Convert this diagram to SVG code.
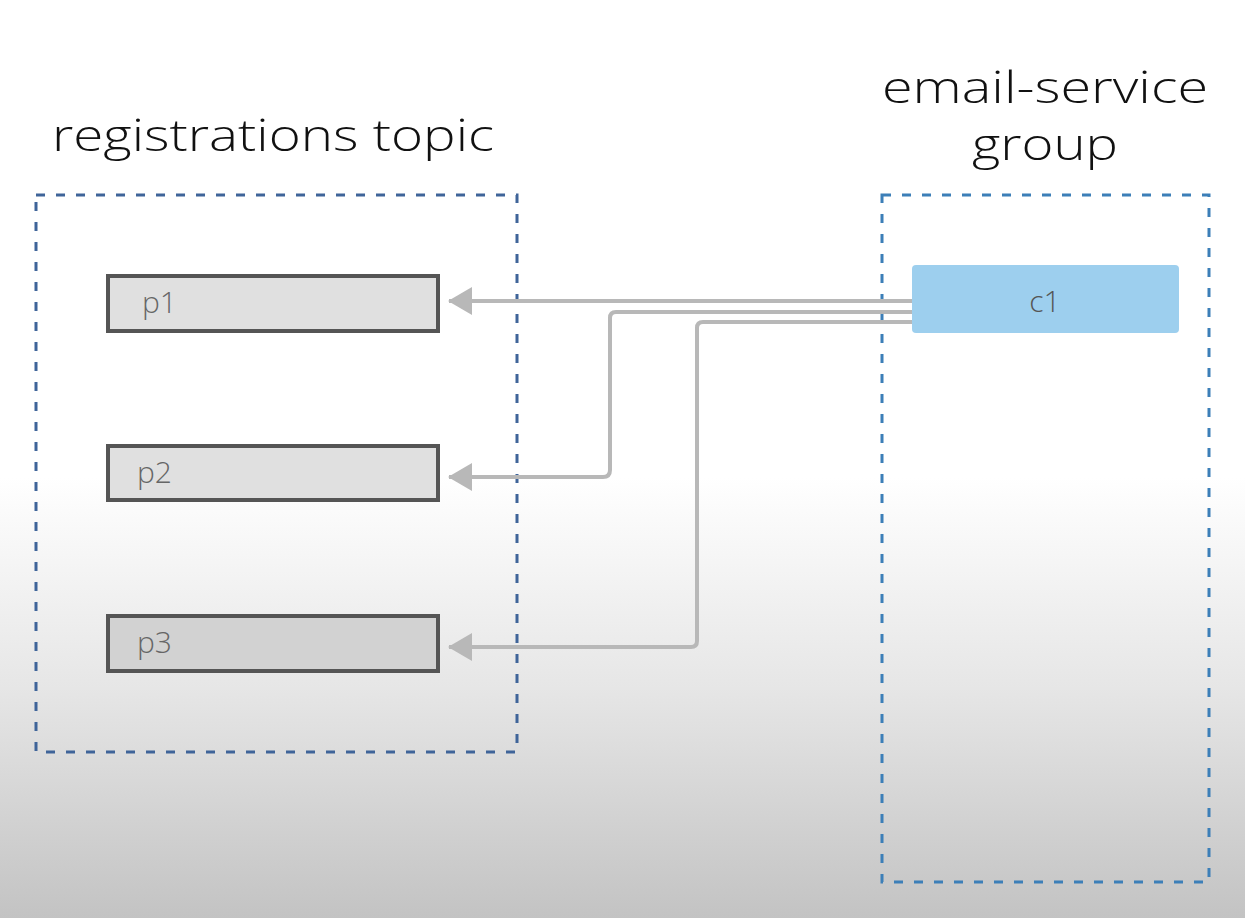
<svg xmlns="http://www.w3.org/2000/svg" width="1245" height="918" viewBox="0 0 1245 918">
  <defs>
    <linearGradient id="bg" x1="0" y1="0" x2="0" y2="1">
      <stop offset="0" stop-color="#ffffff"/>
      <stop offset="0.52" stop-color="#ffffff"/>
      <stop offset="0.75" stop-color="#e6e6e6"/>
      <stop offset="1" stop-color="#c3c3c3"/>
    </linearGradient>
    <marker id="arr" viewBox="0 0 24 28" refX="23" refY="14" markerWidth="24" markerHeight="28" markerUnits="userSpaceOnUse" orient="auto">
      <path d="M0,0 L24,14 L0,28 Z" fill="#b8b8b8"/>
    </marker>
    <style>
      .title { font-family: "Open Sans", "Liberation Sans", sans-serif; font-weight: 300; fill: #111; font-size: 44px; }
      .grp { fill: none; stroke-width: 3; stroke-dasharray: 9 11; }
      .part rect { stroke: #555; stroke-width: 4; }
      .lbl { font-family: "Open Sans", "Liberation Sans", sans-serif; font-weight: 300; fill: #666; font-size: 30px; }
      .conn { fill: none; stroke: #b8b8b8; stroke-width: 4; stroke-linejoin: round; }
    </style>
  </defs>
  <rect x="0" y="0" width="1245" height="918" fill="url(#bg)"/>

  <g id="topic">
    <text class="title" x="52" y="151" textLength="442" lengthAdjust="spacingAndGlyphs">registrations topic</text>
    <rect class="grp" x="36" y="195" width="481" height="557" stroke="#3f6499"/>
  </g>
  <g id="group">
    <text class="title" x="1045" y="103" text-anchor="middle" textLength="326" lengthAdjust="spacingAndGlyphs">email-service</text>
    <text class="title" x="1045" y="160" text-anchor="middle" textLength="146" lengthAdjust="spacingAndGlyphs">group</text>
    <rect class="grp" x="882" y="195" width="327" height="687" stroke="#3c7fb8"/>
  </g>

  <g id="p1" class="part">
    <rect x="108" y="276" width="330" height="55" fill="#e0e0e0"/>
    <text class="lbl" x="142" y="313">p1</text>
  </g>
  <g id="p2" class="part">
    <rect x="108" y="446" width="330" height="54" fill="#e0e0e0"/>
    <text class="lbl" x="137" y="483">p2</text>
  </g>
  <g id="p3" class="part">
    <rect x="108" y="616" width="330" height="55" fill="#d2d2d2"/>
    <text class="lbl" x="137" y="653">p3</text>
  </g>
  <g id="c1">
    <rect x="912" y="265" width="267" height="68" rx="4" fill="#9dcfee"/>
    <text class="lbl" x="1045" y="312" text-anchor="middle" style="fill:#555">c1</text>
  </g>

  <g id="connectors">
    <path class="conn" d="M912,301 L449,301" marker-end="url(#arr)"/>
    <path class="conn" d="M912,312 L616,312 Q610,312 610,318 L610,470 Q610,477 603,477 L449,477" marker-end="url(#arr)"/>
    <path class="conn" d="M912,322 L703,322 Q697,322 697,328 L697,641 Q697,647 691,647 L449,647" marker-end="url(#arr)"/>
  </g>
</svg>
